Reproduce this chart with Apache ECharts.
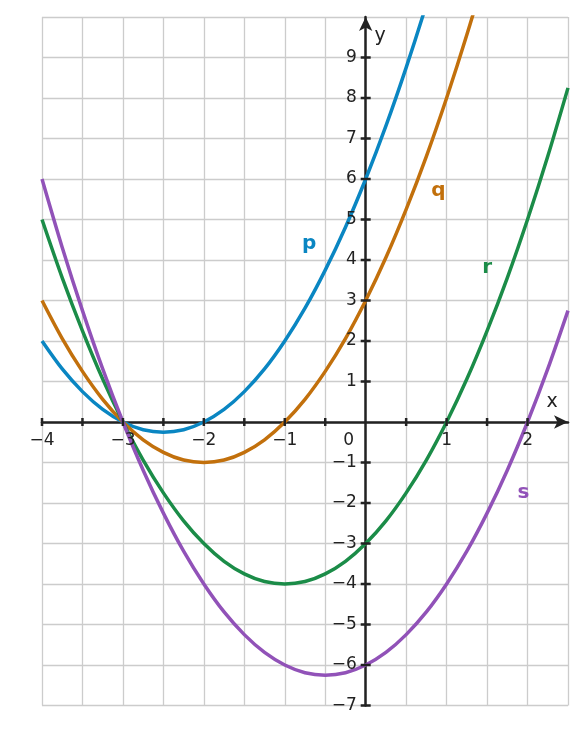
<!DOCTYPE html>
<html><head><meta charset="utf-8">
<script src="https://cdn.jsdelivr.net/npm/echarts@6/dist/echarts.min.js"></script>
<style>html,body{margin:0;padding:0;background:#fff}#c{width:586px;height:734px}</style>
</head><body><div id="c"></div>
<script>
const xs = [-4,-3.75,-3.5,-3.25,-3,-2.75,-2.5,-2.25,-2,-1.75,-1.5,-1.25,-1,-0.75,-0.5,-0.25,0,0.25,0.5,0.75,1,1.25,1.5,1.75,2,2.25,2.5];
const pVals = [2,1.31,0.75,0.31,0,-0.19,-0.25,-0.19,0,0.31,0.75,1.31,2,2.81,3.75,4.81,6,7.31,8.75,10.31,12,13.81,15.75,17.81,20,22.31,24.75];
const qVals = [3,2.06,1.25,0.56,0,-0.44,-0.75,-0.94,-1,-0.94,-0.75,-0.44,0,0.56,1.25,2.06,3,4.06,5.25,6.56,8,9.56,11.25,13.06,15,17.06,19.25];
const rVals = [5,3.56,2.25,1.06,0,-0.94,-1.75,-2.44,-3,-3.44,-3.75,-3.94,-4,-3.94,-3.75,-3.44,-3,-2.44,-1.75,-0.94,0,1.06,2.25,3.56,5,6.56,8.25];
const sVals = [6,4.31,2.75,1.31,0,-1.19,-2.25,-3.19,-4,-4.69,-5.25,-5.69,-6,-6.19,-6.25,-6.19,-6,-5.69,-5.25,-4.69,-4,-3.19,-2.25,-1.19,0,1.31,2.75];
const xTickLabels = [-4,-3,-2,-1,1,2];
const yTickLabels = [-7,-6,-5,-4,-3,-2,-1,1,2,3,4,5,6,7,8,9];
const xTickPos = [-4,-3.5,-3,-2.5,-2,-1.5,-1,-0.5,0.5,1,1.5,2];
const names = ['p','q','r','s'];
const colors = ['#0a86c2','#c2700c','#1b8c48','#9152b8'];
const labelPos = [[-0.7,4.4],[0.9,5.7],[1.5,3.8],[1.95,-1.75]];
const minus = v => String(v).replace('-', '\u2212');
const font = 'DejaVu Sans';
const chart = echarts.init(document.getElementById('c'));
const all = [pVals,qVals,rVals,sVals];
chart.setOption({
  animation:false,
  grid:{left:42,right:18,top:17,bottom:28.5},
  xAxis:{type:'value',min:-4,max:2.5,interval:0.5,
    axisLine:{onZero:true,symbol:['none','arrow'],symbolSize:[10,14],lineStyle:{color:'#222',width:2.5}},
    axisTick:{show:false},axisLabel:{show:false},
    splitLine:{show:true,lineStyle:{color:'#cccccc',width:1.3}}},
  yAxis:{type:'value',min:-7,max:10,interval:1,
    axisLine:{onZero:true,symbol:['none','arrow'],symbolSize:[10,14],lineStyle:{color:'#222',width:2.5}},
    axisTick:{show:false},axisLabel:{show:false},
    splitLine:{show:true,lineStyle:{color:'#cccccc',width:1.3}}},
  series: all.map((vals,i)=>({type:'line',name:names[i],smooth:0.3,symbol:'none',clip:true,z:3,
    lineStyle:{color:colors[i],width:3.5},data:xs.map((x,j)=>[x,vals[j]])}))
});
const px = p => chart.convertToPixel({gridIndex:0},p);
const g = [];
const o = px([0,0]);
xTickPos.forEach(v=>{const p=px([v,0]);
  g.push({type:'line',shape:{x1:p[0],y1:p[1]-4,x2:p[0],y2:p[1]+4},style:{stroke:'#222',lineWidth:2.5},z:10});});
xTickLabels.forEach(v=>{const p=px([v,0]);
  g.push({type:'text',x:p[0],y:p[1]+19,style:{text:minus(v),fill:'#222',font:'17px '+font,align:'center',verticalAlign:'middle'},z:10});});
yTickLabels.forEach(v=>{const p=px([0,v]);
  g.push({type:'line',shape:{x1:p[0]-5,y1:p[1],x2:p[0]+5,y2:p[1]},style:{stroke:'#222',lineWidth:2.5},z:10});
  g.push({type:'text',x:p[0]-9,y:p[1],style:{text:minus(v),fill:'#222',font:'17px '+font,align:'right',verticalAlign:'middle',backgroundColor:'rgba(255,255,255,0)'},z:10});});
labelPos.forEach((p,i)=>{const q=px(p);
  g.push({type:'text',x:q[0],y:q[1],style:{text:names[i],fill:colors[i],font:'bold 20px '+font,align:'center',verticalAlign:'middle'},z:10});});
g.push({type:'text',x:o[0]-17,y:o[1]+19,style:{text:'0',fill:'#222',font:'17px '+font,align:'center',verticalAlign:'middle'},z:10});
g.push({type:'text',x:552,y:402,style:{text:'x',fill:'#222',font:'19px '+font,align:'center',verticalAlign:'middle'},z:10});
g.push({type:'text',x:380,y:36,style:{text:'y',fill:'#222',font:'19px '+font,align:'center',verticalAlign:'middle'},z:10});
chart.setOption({graphic:g});
</script></body></html>
